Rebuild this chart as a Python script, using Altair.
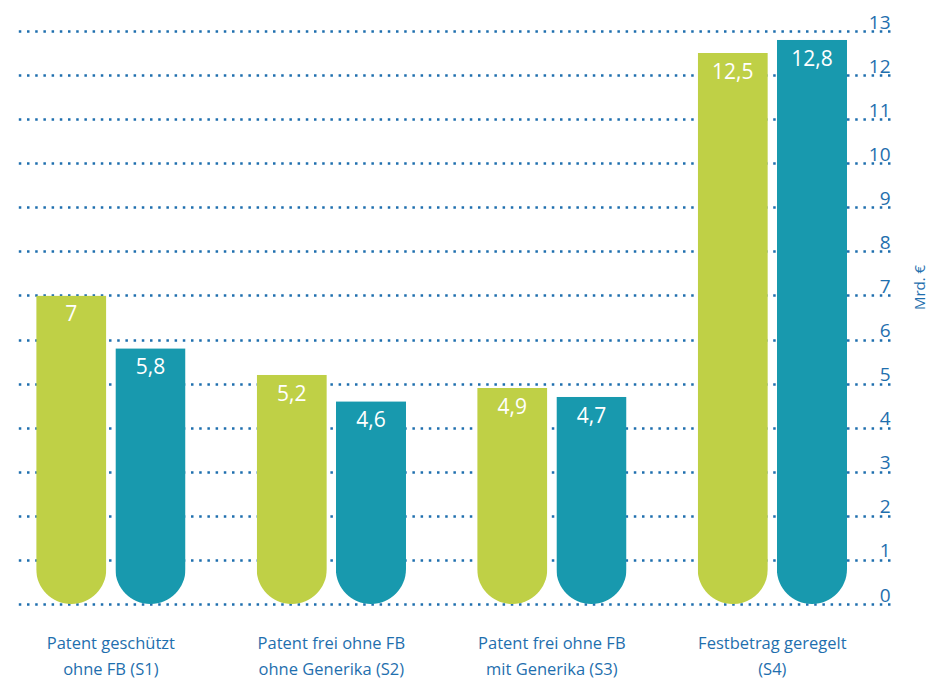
import altair as alt
import pandas as pd

groups = [
    "Patent geschützt|ohne FB (S1)",
    "Patent frei ohne FB|ohne Generika (S2)",
    "Patent frei ohne FB|mit Generika (S3)",
    "Festbetrag geregelt|(S4)",
]
series = ["Reihe 1", "Reihe 2"]
green_vals = [7.0, 5.2, 4.9, 12.5]
teal_vals = [5.8, 4.6, 4.7, 12.8]
y_ticks = list(range(0, 14))

GREEN = "#bfd046"
TEAL = "#1899ae"
BLUE = "#1f6fae"
FONT = "Open Sans"

rows = []
for g, a, b in zip(groups, green_vals, teal_vals):
    for s, v in ((series[0], a), (series[1], b)):
        lab = ("%.1f" % v).replace(".", ",")
        if lab.endswith(",0"):
            lab = lab[:-2]
        rows.append({"group": g, "series": s, "value": v, "label": lab})
df = pd.DataFrame(rows)

base = alt.Chart(df).encode(
    x=alt.X(
        "group:N",
        sort=groups,
        scale=alt.Scale(paddingInner=0.3227, paddingOuter=0.15, align=0.35),
        axis=alt.Axis(
            title=None,
            labelAngle=0,
            labelExpr="split(datum.label, '|')",
            labelLineHeight=26,
            labelFontSize=16.5,
            labelFont=FONT,
            labelColor=BLUE,
            labelPadding=31,
            labelBaseline="top",
            domain=False,
            ticks=False,
        ),
    ),
    xOffset=alt.XOffset(
        "series:N", sort=series, scale=alt.Scale(paddingInner=0.114, paddingOuter=0)
    ),
    y=alt.Y(
        "value:Q",
        scale=alt.Scale(domain=[0, 13], nice=False),
        axis=alt.Axis(
            orient="right",
            values=y_ticks,
            grid=True,
            gridDash=[2.5, 5.7],
            gridWidth=2.5,
            gridColor=BLUE,
            domain=False,
            ticks=False,
            labelAlign="right",
            labelPadding=0,
            labelBaseline="alphabetic",
            labelOffset=-3,
            labelFontSize=19,
            labelFont=FONT,
            labelColor=BLUE,
            title="Mrd. €",
            titleAngle=270,
            titleX=37,
            titleY=256,
            titleFontSize=15,
            titleFont=FONT,
            titleFontWeight="normal",
            titleColor=BLUE,
        ),
    ),
)

bars = base.mark_bar(cornerRadiusBottomLeft=35, cornerRadiusBottomRight=35).encode(
    color=alt.Color(
        "series:N", scale=alt.Scale(domain=series, range=[GREEN, TEAL]), legend=None
    )
)

text = base.mark_text(
    baseline="top", dy=9, color="white", fontSize=21, font=FONT
).encode(text="label:N")

chart = (
    alt.layer(bars, text)
    .properties(
        width=877,
        height=573,
        padding={"left": 5, "top": 5, "right": 0, "bottom": 0},
    )
    .configure_view(stroke=None)
)

chart.save("out.html", embed_options={"renderer": "svg", "actions": False})
